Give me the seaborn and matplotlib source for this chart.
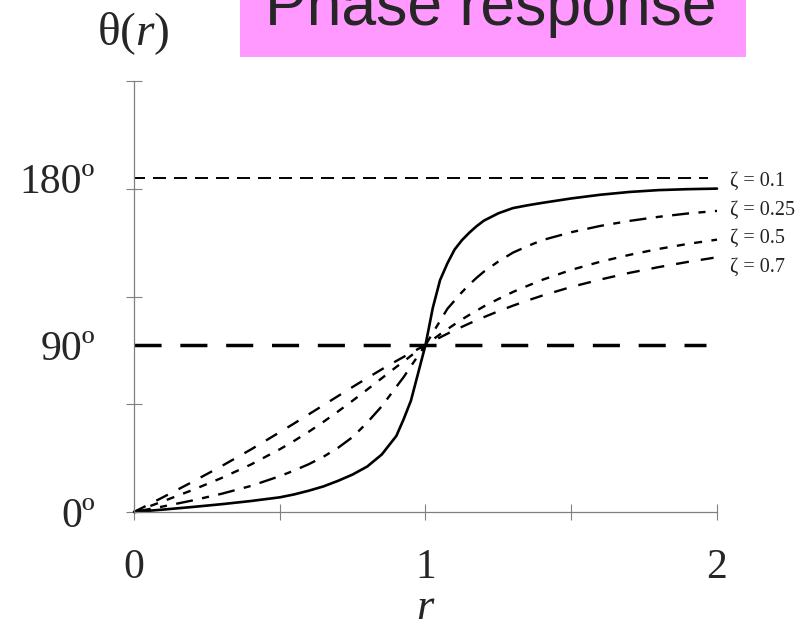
import matplotlib.pyplot as plt
import numpy as np
import pandas as pd
import seaborn as sns
from matplotlib.patches import Rectangle


OUTPUT = "out.png"

# frequency ratio r and phase angle theta (degrees)
R = [0, 0.1, 0.2, 0.3, 0.4, 0.5, 0.55, 0.6, 0.65, 0.7, 0.75, 0.8, 0.85, 0.9, 0.925, 0.95, 0.975,
     1.0, 1.025, 1.05, 1.075, 1.1, 1.125, 1.15, 1.175, 1.2, 1.25, 1.3, 1.35,
     1.4, 1.5, 1.6, 1.7, 1.8, 1.9, 2.0]
THETA_Z010 = [0, 1.3, 2.7, 4.2, 5.9, 7.9, 9.5, 11.5, 13.8, 16.8, 20.2, 24.5, 31, 41, 50, 60, 75,
              90, 110, 125, 134, 141.5, 146.5, 150.5, 154, 157, 161, 163.8, 165.3,
              166.6, 169, 171, 172.5, 173.5, 174, 174.3]
THETA_Z025 = [0, 3.0, 6.2, 9.8, 14.0, 19.3, 22.4, 25.8, 29.8, 34.6, 40.4, 48.2, 57, 67.5, 72.7, 78.6, 84.3,
              90, 96.5, 103, 109.5, 114, 118.5, 122.5, 126.2, 129.5, 135, 139.8, 143.3,
              146.5, 150.8, 154.2, 156.9, 159.1, 160.9, 162.3]
THETA_Z050 = [0, 5.8, 11.8, 18.3, 25.5, 33.8, 38.4, 43.3, 48.6, 54.2, 60, 66, 72.1, 78.2, 81.1, 84.2, 87.1,
              90, 92.9, 95.8, 98.5, 101.2, 103.8, 106.2, 108.5, 110.8, 114.8, 118.6, 121.9,
              125.1, 130.5, 134.9, 138.6, 141.8, 144.5, 146.8]
THETA_Z070 = [0, 8.0, 16.2, 24.7, 33.6, 43.0, 47.8, 52.7, 57.6, 62.5, 67.4, 72.2, 76.9, 81.4, 83.6, 85.8, 87.9,
              90, 92.1, 94.1, 96.1, 98, 99.8, 101.6, 103.3, 105, 108.2, 111.2, 114.0,
              116.6, 121.3, 125.3, 128.9, 132, 134.8, 137.3]
ZETAS = ["0.1", "0.25", "0.5", "0.7"]

Y_LABELS = ["0º", "90º", "180º"]
Y_LABEL_POS = [0, 90, 180]
X_LABELS = ["0", "1", "2"]

SERIF = ["Liberation Serif", "DejaVu Serif"]
SANS = ["Liberation Sans", "DejaVu Sans"]
GREY = "#808080"
Y_TOP = 232.3

LINE_STYLES = {
    "0.1": dict(linestyle="-", linewidth=1.9),
    "0.25": dict(linestyle=(0, (7.2, 4.0, 3.0, 4.0)), linewidth=1.7),
    "0.5": dict(linestyle=(0, (3.4, 4.0)), linewidth=1.7),
    "0.7": dict(linestyle=(0, (5.5, 5.1)), linewidth=1.7),
}
# where the zeta captions sit (degrees), just right of the curves
CAPTION_Y = {"0.1": 178, "0.25": 162.5, "0.5": 147.5, "0.7": 132}


def build_frame():
    series = dict(zip(ZETAS, [THETA_Z010, THETA_Z025, THETA_Z050, THETA_Z070]))
    frames = [pd.DataFrame({"r": R, "theta": vals, "zeta": z}) for z, vals in series.items()]
    return pd.concat(frames, ignore_index=True)


def main():
    df = build_frame()

    sns.set_theme(style="white")
    plt.rcParams["font.family"] = SERIF
    plt.rcParams["mathtext.fontset"] = "custom"
    plt.rcParams["mathtext.rm"] = "Liberation Serif"
    plt.rcParams["mathtext.it"] = "Liberation Serif:italic"

    W, H = 812, 626
    fig = plt.figure(figsize=(W / 100, H / 100), dpi=100)
    ax = fig.add_axes([134 / W, 1 - 512 / H, (717 - 134) / W, (512 - 81) / H])

    for zeta in ZETAS:
        sub = df[df["zeta"] == zeta]
        sns.lineplot(data=sub, x="r", y="theta", ax=ax, color="black",
                     clip_on=False, **LINE_STYLES[zeta])
        ax.text(2.045, CAPTION_Y[zeta], f"ζ = {zeta}", fontsize=14.5,
                ha="left", va="center", color="#222222")

    ax.axhline(180, xmin=-0.004, xmax=0.985, color="black", linewidth=1.4,
               linestyle=(0, (6.7, 4.1)))
    ax.axhline(90, xmin=0, xmax=0.981, color="black", linewidth=2.5,
               linestyle=(0, (7.8, 5.4)))

    ax.set_xlim(0, 2)
    ax.set_ylim(0, Y_TOP)
    ax.set_xticks([0, 1, 2], X_LABELS)
    ax.set_xticks([0.5, 1.5], minor=True)
    ax.set_yticks(Y_LABEL_POS, Y_LABELS)
    ax.set_yticks(np.linspace(0, Y_TOP, 5), minor=True)
    ax.yaxis.remove_overlapping_locs = False
    ax.set_xlabel("")
    ax.set_ylabel("")

    ax.tick_params(axis="x", which="both", bottom=True, direction="inout",
                   length=11, width=0.8, color=GREY, labelsize=30, pad=21)
    ax.tick_params(axis="y", which="major", left=True, length=0,
                   labelsize=30, pad=28)
    ax.tick_params(axis="y", which="minor", left=True, direction="inout",
                   length=11.5, width=0.8, color=GREY)

    sns.despine(ax=ax)
    for side in ["left", "bottom"]:
        ax.spines[side].set_color(GREY)
        ax.spines[side].set_linewidth(0.9)

    # title banner
    fig.add_artist(Rectangle((240 / W, 1 - 57 / H), 506 / W, 57 / H,
                             transform=fig.transFigure, facecolor="#ff99ff",
                             edgecolor="none", zorder=0))
    fig.text(265 / W, 1 - 25 / H, "Phase response", family=SANS, fontsize=45,
             ha="left", va="baseline")

    fig.text(97 / W, 1 - 45 / H, r"$\mathrm{\theta(}r\mathrm{)}$", fontsize=34,
             ha="left", va="baseline")
    fig.text(425 / W, 1 - 619 / H, "r", fontsize=32, fontstyle="italic",
             ha="center", va="baseline")

    fig.savefig(OUTPUT, dpi=100)


if __name__ == "__main__":
    main()
